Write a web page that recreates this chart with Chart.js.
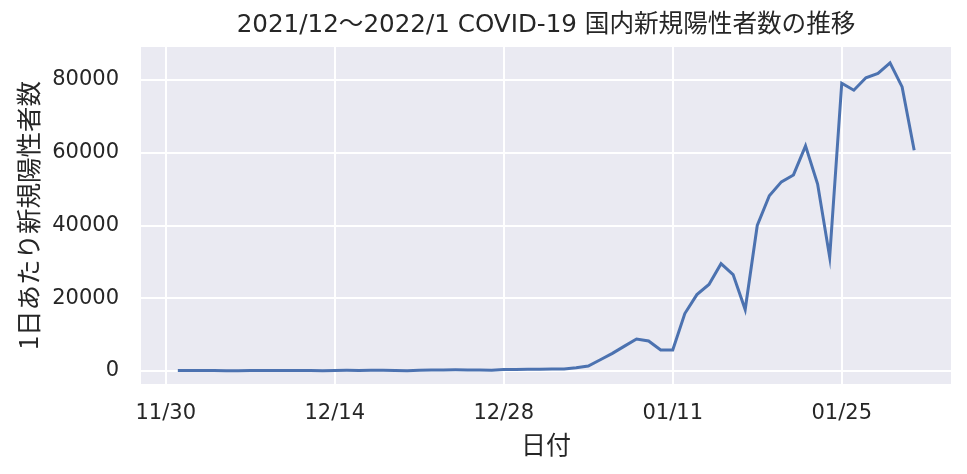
<!DOCTYPE html>
<html>
<head>
<meta charset="utf-8">
<script src="https://cdn.jsdelivr.net/npm/chart.js@4"></script>
<style>
  html, body { margin: 0; padding: 0; background: #fff; }
  #wrap { width: 967px; height: 474px; }
</style>
</head>
<body>
<div id="wrap"><canvas id="covidChart" width="967" height="474"></canvas></div>
<script>
// daily new cases
const decCases = [130, 130, 130, 115, 100, 80, 130, 150, 160, 145, 135, 130, 90, 170, 185,
  175, 205, 190, 150, 95, 200, 255, 300, 320, 290, 265, 205, 385, 400, 500, 480];
const janCases = [550, 560, 900, 1370, 3100, 4860, 6850, 8800, 8250, 5800, 5800, 15800, 21000,
  23800, 29500, 26500, 16900, 40000, 48200, 52000, 53900, 61900, 51400, 31300, 79100, 77200,
  80600, 81800, 84700, 78100, 60700];

// x is days since 2021/11/30
const tickDays = [0, 14, 28, 42, 56];
const tickLabels = ['11/30', '12/14', '12/28', '01/11', '01/25'];
const yTicks = [0, 20000, 40000, 60000, 80000];

const titleText = '2021/12～2022/1 COVID-19 国内新規陽性者数の推移';
const xTitle = '日付';
const yTitle = '1日あたり新規陽性者数';

const CJK = '"Noto Sans CJK JP", "Noto Sans", sans-serif';
const WIDE = '"DejaVu Sans", "Noto Sans CJK JP", sans-serif';
const TEXT = '#262626';

const cases = decCases.concat(janCases);
const points = cases.map((v, i) => ({ x: i + 1, y: v }));

// seaborn-like grey panel
const panelBg = {
  id: 'panelBg',
  beforeDraw(chart) {
    const { ctx, chartArea: a } = chart;
    ctx.save();
    ctx.fillStyle = '#EAEAF2';
    ctx.fillRect(a.left, a.top, a.right - a.left, a.bottom - a.top);
    ctx.restore();
  }
};

// title centred over the plot area
const plotTitle = {
  id: 'plotTitle',
  afterDraw(chart) {
    const { ctx, chartArea: a } = chart;
    ctx.save();
    ctx.font = '24.6px ' + WIDE;
    ctx.fillStyle = TEXT;
    ctx.textAlign = 'center';
    ctx.textBaseline = 'middle';
    ctx.fillText(titleText, (a.left + a.right) / 2, 26);
    ctx.restore();
  }
};

Chart.defaults.font.family = CJK;
Chart.defaults.color = TEXT;

new Chart(document.getElementById('covidChart'), {
  type: 'line',
  data: {
    datasets: [{
      data: points,
      borderColor: '#4C72B0',
      borderWidth: 3,
      pointRadius: 0,
      tension: 0,
      fill: false
    }]
  },
  options: {
    responsive: false,
    animation: false,
    layout: { padding: { top: 47, right: 16, left: 0, bottom: 0 } },
    plugins: { legend: { display: false }, tooltip: { enabled: false } },
    scales: {
      x: {
        type: 'linear',
        min: -2.05,
        max: 65.05,
        afterBuildTicks: s => { s.ticks = tickDays.map(v => ({ value: v })); },
        afterFit: s => { s.height = 90; },
        ticks: {
          autoSkip: false,
          maxRotation: 0,
          padding: 17,
          font: { size: 21, family: WIDE },
          callback: v => tickLabels[tickDays.indexOf(v)]
        },
        grid: { color: '#ffffff', lineWidth: 2, drawTicks: false },
        border: { display: false },
        title: { display: true, text: xTitle, font: { size: 25 }, padding: { top: 0, bottom: 15 } }
      },
      y: {
        min: -3570,
        max: 89070,
        afterBuildTicks: s => { s.ticks = yTicks.map(v => ({ value: v })); },
        afterFit: s => { s.width = 141; },
        ticks: { padding: 22, font: { size: 21, family: WIDE }, callback: v => String(v) },
        grid: { color: '#ffffff', lineWidth: 2, drawTicks: false },
        border: { display: false },
        title: { display: true, text: yTitle, font: { size: 25.5 }, padding: { top: 13, bottom: 0 } }
      }
    }
  },
  plugins: [panelBg, plotTitle]
});
</script>
</body>
</html>
